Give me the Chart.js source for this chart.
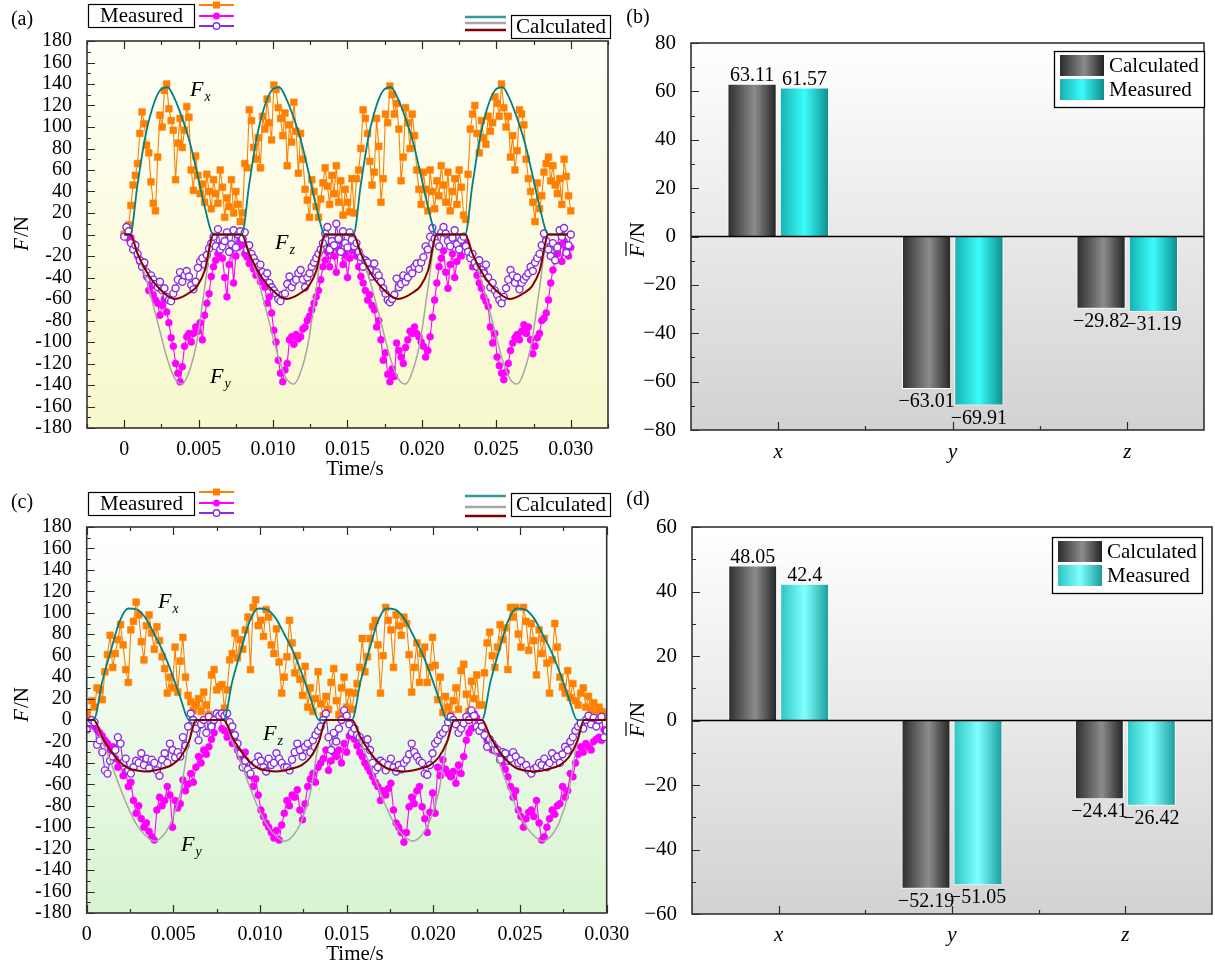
<!DOCTYPE html>
<html><head><meta charset="utf-8">
<script src="https://cdn.jsdelivr.net/npm/chart.js@4.4.0/dist/chart.umd.min.js"></script>
<style>
html,body{margin:0;padding:0;background:#fff;width:1215px;height:968px;overflow:hidden;}
canvas{position:absolute;left:0;top:0;}
</style></head><body>
<canvas id="ca" width="1215" height="968"></canvas>
<canvas id="cb" width="1215" height="968"></canvas>
<canvas id="cc" width="1215" height="968"></canvas>
<canvas id="cd" width="1215" height="968"></canvas>
<script>
// ---------------- DATA ----------------
const sampleStep = 0.00015; // s, sampling interval of measured forces

// Panel (a) measured forces (N)
const measFxA = [0,4,9,
27,46,55,66,94,114,103,83,76,49,29,22,72,111,100,134,140,117,106,97,51,85,108,81,97,119,109,60,41,73,55,38,47,30,56,40,24,
51,38,29,60,44,16,34,26,51,20,40,28,12,
20,66,62,116,106,81,70,90,62,110,98,126,104,88,139,135,118,108,92,113,64,102,86,123,96,57,94,70,42,32,16,51,40,26,16,33,48,
62,45,28,55,38,64,30,50,18,42,30,21,52,
20,52,60,80,116,108,94,68,46,58,108,82,30,52,112,104,138,130,112,122,98,50,72,118,104,80,112,92,60,42,28,58,42,22,60,40,24,
50,36,64,46,30,58,22,40,52,28,60,44,18,
14,56,98,112,120,94,76,106,90,84,110,96,104,128,122,110,140,118,100,110,72,92,60,78,116,112,102,70,52,40,30,12,48,24,36,58,66,
72,50,64,46,38,52,28,70,54,36,22];
const measFyA = [0,-2,-4,
-3,-8,-14,-20,-25,-30,-28,-39,-52,-48,-56,-61,-64,-75,-66,-60,-72,-82,-96,-104,-120,-129,-137,-123,-104,-95,-92,-100,-92,-86,-90,-82,-98,-75,-64,-55,-39,
-30,-24,-18,-10,-22,-40,-58,-28,-14,-45,-20,-12,-6,
-10,-18,-21,-27,-24,-32,-38,-35,-44,-40,-49,-64,-58,-73,-89,-100,-117,-129,-137,-126,-120,-98,-95,-102,-93,-97,-95,-88,-86,-80,-76,-70,-64,-58,-52,-42,-30,
-24,-16,-30,-10,-20,-35,-14,-6,-28,-18,-40,-22,-15,
-12,-20,-30,-39,-45,-52,-61,-56,-66,-70,-86,-80,-98,-117,-110,-130,-137,-125,-132,-101,-108,-114,-120,-105,-98,-90,-92,-86,-92,-95,-100,-104,-114,-108,-95,-77,-61,
-45,-30,-22,-15,-35,-50,-28,-18,-40,-25,-10,-20,-8,
-8,-15,-22,-30,-26,-38,-45,-50,-58,-62,-67,-86,-101,-92,-114,-122,-129,-135,-128,-120,-108,-101,-96,-93,-98,-90,-84,-92,-86,-98,-111,-104,-96,-92,-80,-78,-73,
-61,-45,-33,-24,-18,-10,-25,-6,-14,-20,-12];
const measFzA = [-2,7,3,
-8,-14,-10,-18,-24,-30,-26,-35,-41,-38,-42,-46,-49,-44,-52,-50,-58,-61,-62,-55,-50,-42,-35,-44,-38,-34,-39,-47,-51,-44,-31,-25,-22,-28,-19,-13,-8,
-2,-11,5,-14,-11,-6,2,-16,-9,4,-12,0,3,
-4,2,-14,-10,-18,-22,-26,-30,-28,-35,-39,-36,-45,-49,-52,-55,-60,-62,-56,-55,-46,-39,-49,-44,-42,-36,-33,-42,-49,-40,-36,-30,-26,-22,-18,-14,-8,
1,7,-14,-6,-10,10,-4,-16,3,-8,-12,2,-5,
-11,-8,-16,-21,-30,-24,-26,-33,-39,-27,-35,-38,-44,-50,-55,-61,-63,-60,-56,-41,-49,-46,-38,-44,-40,-33,-36,-30,-27,-32,-26,-21,-11,-14,-2,6,-4,
-8,-11,2,7,1,-6,-11,-3,4,-9,-14,-5,-2,
-11,-16,-22,-18,-26,-30,-24,-33,-36,-28,-40,-49,-45,-52,-56,-61,-64,-58,-50,-42,-33,-38,-45,-40,-51,-45,-42,-39,-36,-30,-34,-26,-22,-18,-10,1,-6,
-14,-20,-8,-24,-12,4,-2,6,-17,-10,0];

// Panel (a) calculated forces
const calcTimeA = [0,
0.0004,0.0009,0.0014,0.0019,0.0024,0.0029,0.0034,0.0039,0.0044,0.0049,0.0054,0.0060,
0.0079,0.0084,0.0089,0.0094,0.0099,0.0104,0.0109,0.0114,0.0119,0.0124,0.0129,0.0135,
0.0154,0.0159,0.0164,0.0169,0.0174,0.0179,0.0184,0.0189,0.0194,0.0199,0.0204,0.0210,
0.0229,0.0234,0.0239,0.0244,0.0249,0.0254,0.0259,0.0264,0.0269,0.0274,0.0279,0.0285,
0.0298];
const calcFxA = [0,
0,47,90,118,134,137,126,108,86,57,26,0,
0,47,90,118,134,137,126,108,86,57,26,0,
0,47,90,118,134,137,126,108,86,57,26,0,
0,47,90,118,134,137,126,108,86,57,26,0,
0];
const calcFyA = [0,
0,-17,-38,-63,-90,-116,-134,-139,-126,-98,-50,0,
0,-17,-38,-63,-90,-116,-134,-139,-126,-98,-50,0,
0,-17,-38,-63,-90,-116,-134,-139,-126,-98,-50,0,
0,-17,-38,-63,-90,-116,-134,-139,-126,-98,-50,0,
0];
const calcFzA = [0,
0,-18,-32,-43,-51,-57,-60,-58,-54,-48,-34,0,
0,-18,-32,-43,-51,-57,-60,-58,-54,-48,-34,0,
0,-18,-32,-43,-51,-57,-60,-58,-54,-48,-34,0,
0,-18,-32,-43,-51,-57,-60,-58,-54,-48,-34,0,
0];

// Panel (c) measured forces (N)
const measFxC = [6,0,18,
12,30,28,19,45,61,79,49,62,75,89,70,47,35,84,92,110,98,73,56,88,98,81,66,87,74,59,48,25,40,30,68,26,55,77,40,23,17,9,
14,20,8,26,14,5,42,47,28,31,33,
11,28,56,62,81,58,75,66,84,96,47,105,112,88,93,78,103,96,70,62,85,54,25,40,59,93,72,44,60,38,23,50,12,30,8,20,45,15,4,
22,10,35,48,18,5,30,40,12,26,
10,25,34,49,76,45,59,76,87,93,70,25,60,105,93,84,49,98,88,79,96,90,61,26,49,72,35,62,68,35,49,77,51,19,40,7,22,12,5,
18,30,10,46,52,24,8,36,20,42,14,
14,44,72,82,60,49,68,89,75,86,47,105,96,105,80,68,105,92,65,90,74,42,84,62,76,53,25,56,90,68,40,31,25,46,21,34,18,14,25,
30,12,22,9,16,5,12,8,3,6];
const measFyC = [3,-4,-2,
-6,-9,-12,-15,-19,-22,-28,-25,-36,-44,-40,-52,-48,-62,-58,-75,-87,-80,-92,-100,-96,-104,-109,-112,-84,-72,-80,-75,-62,-70,-100,-75,-82,-78,-56,-66,-60,-50,-58,
-44,-34,-40,-28,-32,-25,-18,-12,3,6,-8,
-10,-16,-12,-22,-19,-28,-34,-37,-30,-45,-52,-62,-55,-70,-84,-90,-96,-100,-105,-110,-103,-112,-98,-87,-75,-80,-70,-72,-65,-84,-93,-78,-62,-55,-50,-58,-44,-40,-36,
-28,-47,-38,-30,-34,-28,-40,-22,-30,-15,
-12,-18,-24,-30,-34,-40,-44,-48,-53,-58,-62,-75,-66,-70,-64,-59,-84,-96,-100,-105,-114,-105,-81,-72,-78,-66,-62,-81,-92,-105,-86,-68,-87,-44,-52,-37,-46,-50,-53,
-48,-59,-42,-50,-34,-19,-12,-8,6,2,-10,
-8,-12,-19,-22,-28,-25,-30,-34,-40,-46,-53,-62,-72,-66,-84,-90,-100,-92,-86,-84,-90,-75,-96,-112,-109,-100,-92,-84,-88,-80,-78,-62,-72,-66,-50,-53,-40,-32,-25,
-30,-22,-25,-28,-20,-18,-16,-19,-9,-12];
const measFzC = [-9,-2,0,
-2,-23,-19,-30,-47,-50,-38,-34,-28,-16,-22,-40,-36,-47,-50,-44,-38,-40,-31,-42,-36,-45,-37,-40,-47,-52,-37,-31,-40,-22,-28,-35,-30,-34,-16,-24,-6,6,0,
-8,-19,-4,0,-12,3,-6,0,6,4,6,
4,6,-2,-6,-14,-22,-31,-44,-38,-46,-50,-42,-40,-34,-38,-44,-48,-36,-42,-40,-31,-36,-40,-44,-44,-47,-37,-30,-22,-28,-34,-25,-22,-30,-19,-14,-10,-6,0,
6,-16,-28,-12,-20,-8,0,9,4,-4,
-12,-8,-14,-16,-20,-24,-18,-28,-40,-47,-44,-38,-40,-47,-42,-36,-44,-48,-42,-46,-40,-37,-32,-22,-30,-34,-38,-40,-50,-51,-42,-31,-22,-19,-14,-12,-8,-2,3,
0,-4,-12,-8,-3,3,0,9,4,-6,-10,
-6,-14,-25,-18,-22,-28,-28,-37,-30,-31,-38,-36,-30,-34,-40,-38,-44,-42,-47,-50,-46,-44,-40,-42,-36,-44,-40,-31,-36,-34,-40,-32,-25,-28,-20,-16,-10,-6,-3,
-8,0,4,-4,2,-6,0,3,-16,-10];

// Panel (c) calculated forces
const calcTimeC = [0,
0.0004,0.0009,0.0014,0.0019,0.0024,0.0029,0.0034,0.0039,0.0044,0.0049,0.0054,0.0059,0.0063,
0.0079,0.0084,0.0089,0.0094,0.0099,0.0104,0.0109,0.0114,0.0119,0.0124,0.0129,0.0134,0.0138,
0.0153,0.0158,0.0163,0.0168,0.0173,0.0178,0.0183,0.0188,0.0193,0.0198,0.0203,0.0208,0.0212,
0.0228,0.0233,0.0238,0.0243,0.0248,0.0253,0.0258,0.0263,0.0268,0.0273,0.0278,0.0283,0.0287,
0.0300];
const calcFxC = [0,
0,36,65,92,104,103,95,80,64,44,21,0,0,
0,36,65,92,104,103,95,80,64,44,21,0,0,
0,36,65,92,104,103,95,80,64,44,21,0,0,
0,36,65,92,104,103,95,80,64,44,21,0,0,
0];
const calcFyC = [0,
0,-20,-40,-62,-82,-98,-108,-113,-108,-94,-68,-20,0,
0,-20,-40,-62,-82,-98,-108,-113,-108,-94,-68,-20,0,
0,-20,-40,-62,-82,-98,-108,-113,-108,-94,-68,-20,0,
0,-20,-40,-62,-82,-98,-108,-113,-108,-94,-68,-20,0,
0];
const calcFzC = [0,
0,-16,-29,-39,-45,-47,-48,-47,-45,-42,-35,-20,0,
0,-16,-29,-39,-45,-47,-48,-47,-45,-42,-35,-20,0,
0,-16,-29,-39,-45,-47,-48,-47,-45,-42,-35,-20,0,
0,-16,-29,-39,-45,-47,-48,-47,-45,-42,-35,-20,0,
0];

// Mean forces (b) and (d)
const categories = ['x','y','z'];
const calcMeanB = [63.11, -63.01, -29.82];
const measMeanB = [61.57, -69.91, -31.19];
const calcMeanD = [48.05, -52.19, -24.41];
const measMeanD = [42.4, -51.05, -26.42];

// Tick values / labels
const timeTicksA = [0,0.005,0.010,0.015,0.020,0.025,0.030];
const timeMinorA = [-0.0025,0.0025,0.0075,0.0125,0.0175,0.0225,0.0275,0.0325];
const timeTicksC = [0,0.005,0.010,0.015,0.020,0.025,0.030];
const timeMinorC = [0.0025,0.0075,0.0125,0.0175,0.0225,0.0275];
const timeLabels = ['0','0.005','0.010','0.015','0.020','0.025','0.030'];
const forceTicks = [-180,-160,-140,-120,-100,-80,-60,-40,-20,0,20,40,60,80,100,120,140,160,180];
const forceMinor = [-170,-150,-130,-110,-90,-70,-50,-30,-10,10,30,50,70,90,110,130,150,170];
const meanTicksB = [-80,-60,-40,-20,0,20,40,60,80];
const meanMinorB = [-70,-50,-30,-10,10,30,50,70];
const meanTicksD = [-60,-40,-20,0,20,40,60];
const meanMinorD = [-50,-30,-10,10,30,50];
const categoryPos = [0,1,2];
const categoryBounds = [0.5,1.5];

// ---------------- STYLE / HELPERS ----------------
const SERIF = '"Liberation Serif","Times New Roman",Times,serif';
const ORANGE = '#ff8000', MAGENTA = '#ff00ff', PURPLE = '#8a2be2';
const TEAL = '#008080', GRAY = '#a6a6a6', DARKRED = '#800000';
const GRAD_CALC = [[0,'#2c2c2c'],[0.55,'#8c8c8c'],[1,'#222222']];
const GRAD_MEAS_B = [[0,'#16b0b0'],[0.5,'#3cfcfc'],[1,'#0c8c8c']];
const GRAD_MEAS_D = [[0,'#2cc4c4'],[0.5,'#80ffff'],[1,'#1a9c9c']];

function T(ctx, s, x, y, font, align, base, color) {
  ctx.font = font; ctx.textAlign = align || 'left'; ctx.textBaseline = base || 'middle';
  ctx.fillStyle = color || '#000'; ctx.fillText(s, x, y);
}
function Fsub(ctx, sub, x, y) {
  T(ctx, 'F', x, y, 'italic 22px ' + SERIF, 'left', 'middle');
  const w = ctx.measureText('F').width;
  T(ctx, sub, x + w + 1, y + 7, 'italic 14px ' + SERIF, 'left', 'middle');
}
function yTitle(ctx, cx, cy, bar) {
  ctx.save(); ctx.translate(cx, cy); ctx.rotate(-Math.PI / 2);
  const fI = 'italic 21px ' + SERIF, fR = '21px ' + SERIF;
  ctx.font = fI; const w1 = ctx.measureText('F').width;
  ctx.font = fR; const w2 = ctx.measureText('/N').width;
  const x0 = -(w1 + w2) / 2;
  T(ctx, 'F', x0, 0, fI, 'left', 'middle');
  T(ctx, '/N', x0 + w1 + 1, 0, fR, 'left', 'middle');
  if (bar) { ctx.strokeStyle = '#000'; ctx.lineWidth = 1.2; ctx.beginPath(); ctx.moveTo(x0 + 1, -12); ctx.lineTo(x0 + w1 + 2, -12); ctx.stroke(); }
  ctx.restore();
}
function pts(xs, ys) { return ys.map((v, i) => ({x: xs[i], y: v})); }
function ptsStep(ys) { return ys.map((v, i) => ({x: +(i * sampleStep).toFixed(5), y: v})); }

const deco = {
  id: 'deco',
  beforeDraw(chart, a, o) {
    const {ctx, chartArea: c} = chart;
    if (o.bg) {
      const g = ctx.createLinearGradient(0, c.top, 0, c.bottom);
      o.bg.forEach(s => g.addColorStop(s[0], s[1]));
      ctx.save(); ctx.fillStyle = g; ctx.fillRect(c.left, c.top, c.right - c.left, c.bottom - c.top); ctx.restore();
    }
  },
  beforeDatasetsDraw(chart, a, o) { if (o.under) { chart.ctx.save(); o.under(chart.ctx, chart); chart.ctx.restore(); } },
  afterDatasetsDraw(chart, a, o) {
    const {ctx, chartArea: c, scales: {x, y}} = chart;
    ctx.save();
    if (o.zeroLine) {
      const p = y.getPixelForValue(0);
      ctx.strokeStyle = '#000'; ctx.lineWidth = 1.5; ctx.beginPath(); ctx.moveTo(c.left, p); ctx.lineTo(c.right, p); ctx.stroke();
    }
    ctx.strokeStyle = '#2a2a2a'; ctx.lineWidth = 1.2; ctx.beginPath();
    const yt = (arr, L) => (arr || []).forEach(v => { const p = Math.round(y.getPixelForValue(v)) + 0.5; ctx.moveTo(c.left, p); ctx.lineTo(c.left + L, p); });
    const xt = (arr, L) => (arr || []).forEach(v => { const p = Math.round(x.getPixelForValue(v)) + 0.5; ctx.moveTo(p, c.bottom); ctx.lineTo(p, c.bottom - L); if (o.topTicks) { ctx.moveTo(p, c.top); ctx.lineTo(p, c.top + L); } });
    yt(o.yMajor, 8); yt(o.yMinor, 4); xt(o.xMajor, 8); xt(o.xMinor, 4);
    ctx.stroke();
    ctx.strokeStyle = '#333'; ctx.lineWidth = 1.6;
    ctx.strokeRect(c.left, c.top, c.right - c.left, c.bottom - c.top);
    ctx.restore();
    if (o.over) { ctx.save(); o.over(ctx, chart); ctx.restore(); }
  }
};

function lineLegends(ctx, mBoxY, mRows, cBoxY, cRows) {
  ctx.strokeStyle = '#000'; ctx.lineWidth = 1.2;
  ctx.fillStyle = '#fff'; ctx.fillRect(88, mBoxY, 106, 23);
  ctx.strokeRect(88.5, mBoxY + 0.5, 106, 23);
  T(ctx, 'Measured', 141.5, mBoxY + 12.5, '21px ' + SERIF, 'center', 'middle');
  const cols = [ORANGE, MAGENTA, PURPLE];
  mRows.forEach((yy, i) => {
    ctx.strokeStyle = cols[i]; ctx.lineWidth = 2;
    ctx.beginPath(); ctx.moveTo(199, yy); ctx.lineTo(234, yy); ctx.stroke();
    if (i === 0) { ctx.fillStyle = ORANGE; ctx.fillRect(213, yy - 3.5, 7, 7); }
    else if (i === 1) { ctx.fillStyle = MAGENTA; ctx.beginPath(); ctx.arc(216.5, yy, 3.5, 0, Math.PI * 2); ctx.fill(); }
    else { ctx.fillStyle = '#fff'; ctx.lineWidth = 1.4; ctx.beginPath(); ctx.arc(216.5, yy, 3.3, 0, Math.PI * 2); ctx.fill(); ctx.stroke(); }
  });
  const lc = [TEAL, GRAY, DARKRED];
  cRows.forEach((yy, i) => {
    ctx.strokeStyle = lc[i]; ctx.lineWidth = 2.6; ctx.globalAlpha = i === 0 ? 0.8 : 1;
    ctx.beginPath(); ctx.moveTo(465, yy); ctx.lineTo(506, yy); ctx.stroke();
  });
  ctx.globalAlpha = 1;
  ctx.strokeStyle = '#000'; ctx.lineWidth = 1.2;
  ctx.fillStyle = '#fff'; ctx.fillRect(511, cBoxY, 99, 23);
  ctx.strokeRect(511.5, cBoxY + 0.5, 99, 23);
  T(ctx, 'Calculated', 561, cBoxY + 12.5, '21px ' + SERIF, 'center', 'middle');
}

function lineChart(id, o) {
  return new Chart(document.getElementById(id), {
    type: 'line',
    data: { datasets: [
      {data: pts(o.ct, o.cz), borderColor: DARKRED, borderWidth: 2, pointRadius: 0, cubicInterpolationMode: 'monotone', order: 1},
      {data: pts(o.ct, o.cx), borderColor: TEAL, borderWidth: 1.8, pointRadius: 0, cubicInterpolationMode: 'monotone', order: 2},
      {data: pts(o.ct, o.cy), borderColor: GRAY, borderWidth: 1.5, pointRadius: 0, cubicInterpolationMode: 'monotone', order: 3},
      {data: ptsStep(o.mz), borderColor: PURPLE, borderWidth: 1.1, pointStyle: 'circle', pointRadius: 3.5, pointBackgroundColor: '#fff', pointBorderColor: PURPLE, pointBorderWidth: 1.4, order: 4},
      {data: ptsStep(o.mx), borderColor: ORANGE, borderWidth: 1.1, pointStyle: 'rect', pointRadius: 4.8, pointBackgroundColor: ORANGE, pointBorderColor: ORANGE, pointBorderWidth: 0.5, order: 5},
      {data: ptsStep(o.my), borderColor: MAGENTA, borderWidth: 1.1, pointStyle: 'circle', pointRadius: 3.5, pointBackgroundColor: MAGENTA, pointBorderColor: MAGENTA, pointBorderWidth: 0.5, order: 6}
    ]},
    options: {
      responsive: false, animation: false, events: [],
      layout: {padding: o.pad},
      scales: {
        x: {type: 'linear', min: o.xmin, max: o.xmax,
            afterBuildTicks: s => { s.ticks = o.xt.map(v => ({value: v})); },
            afterFit: s => { s.height = o.xh; },
            grid: {display: false}, border: {display: false},
            ticks: {autoSkip: false, maxRotation: 0, padding: o.xpad, color: '#000', font: {family: SERIF, size: 20},
                    callback: (v, i) => timeLabels[i]}},
        y: {min: -180, max: 180,
            afterBuildTicks: s => { s.ticks = forceTicks.map(v => ({value: v})); },
            afterFit: s => { s.width = o.yw; },
            grid: {display: false}, border: {display: false},
            ticks: {autoSkip: false, padding: 7, color: '#000', font: {family: SERIF, size: 20},
                    callback: (v, i) => String(forceTicks[i])}}
      },
      plugins: {legend: {display: false}, tooltip: {enabled: false},
        deco: {bg: o.bg, yMajor: forceTicks, yMinor: forceMinor, xMajor: o.xt, xMinor: o.xminor, topTicks: true,
               under: o.under, over: o.over}}
    },
    plugins: [deco]
  });
}

function gradFor(stops, dsIndex, cp, bp) {
  return (c) => {
    const ch = c.chart, xs = ch.scales && ch.scales.x;
    if (!xs || c.dataIndex === undefined) return stops[1][1];
    const cw = xs.getPixelForValue(1) - xs.getPixelForValue(0);
    const slot = cw * cp / 2;
    const center = xs.getPixelForValue(c.dataIndex) - cw * cp / 2 + slot * (dsIndex + 0.5);
    const bw = slot * bp;
    if (!isFinite(center) || !isFinite(bw) || bw <= 0) return stops[1][1];
    const g = ch.ctx.createLinearGradient(center - bw / 2, 0, center + bw / 2, 0);
    stops.forEach(s => g.addColorStop(s[0], s[1]));
    return g;
  };
}
function fmt(v) { return String(v).replace('-', '\u2212'); }

function barChart(id, o) {
  const CP = 0.6, BP = 0.94;
  return new Chart(document.getElementById(id), {
    type: 'bar',
    data: { datasets: [
      {label: 'Calculated', data: pts(categoryPos, o.calc), backgroundColor: gradFor(GRAD_CALC, 0, CP, BP), borderColor: '#ffffff', borderWidth: 1, categoryPercentage: CP, barPercentage: BP},
      {label: 'Measured', data: pts(categoryPos, o.meas), backgroundColor: gradFor(o.mg, 1, CP, BP), borderColor: '#ffffff', borderWidth: 1, categoryPercentage: CP, barPercentage: BP}
    ]},
    options: {
      responsive: false, animation: false, events: [],
      layout: {padding: o.pad},
      scales: {
        x: {type: 'linear', min: -0.5, max: o.xmax, offset: false,
            afterBuildTicks: s => { s.ticks = categoryPos.map(v => ({value: v})); },
            afterFit: s => { s.height = o.xh; }, grid: {display: false}, border: {display: false},
            ticks: {autoSkip: false, maxRotation: 0, padding: o.xpad, color: '#000', font: {family: SERIF, size: 21, style: 'italic'},
                    callback: (v, i) => categories[i]}},
        y: {min: o.yt[0], max: o.yt[o.yt.length - 1],
            afterBuildTicks: s => { s.ticks = o.yt.map(v => ({value: v})); },
            afterFit: s => { s.width = o.yw; },
            grid: {display: false}, border: {display: false},
            ticks: {autoSkip: false, padding: 7, color: '#000', font: {family: SERIF, size: 21},
                    callback: (v, i) => fmt(o.yt[i])}}
      },
      plugins: {legend: {display: false}, tooltip: {enabled: false},
        deco: {bg: [[0, '#ffffff'], [1, '#d2d2d2']], yMajor: o.yt, yMinor: o.ym, xMajor: categoryPos, xMinor: categoryBounds,
               topTicks: false, zeroLine: true,
               over: (ctx, chart) => {
                 [o.calc, o.meas].forEach((arr, di) => {
                   chart.getDatasetMeta(di).data.forEach((el, i) => {
                     const v = arr[i];
                     if (v >= 0) T(ctx, fmt(v), el.x, el.y - 3, '20px ' + SERIF, 'center', 'alphabetic');
                     else T(ctx, fmt(v), el.x, el.y + 3, '20px ' + SERIF, 'center', 'top');
                   });
                 });
                 const L = o.leg;
                 ctx.fillStyle = '#fff'; ctx.fillRect(L.x, L.y, L.w, L.h);
                 ctx.strokeStyle = '#000'; ctx.lineWidth = 1.3; ctx.strokeRect(L.x + 0.5, L.y + 0.5, L.w, L.h);
                 [[GRAD_CALC, 'Calculated', L.y + 4], [o.mg, 'Measured', L.y + 28]].forEach(r => {
                   const g = ctx.createLinearGradient(L.x + 6, 0, L.x + 50, 0);
                   r[0].forEach(s => g.addColorStop(s[0], s[1]));
                   ctx.fillStyle = g; ctx.fillRect(L.x + 6, r[2], 44, 21);
                   T(ctx, r[1], L.x + 55, r[2] + 11, '21px ' + SERIF, 'left', 'middle');
                 });
               }}}
    },
    plugins: [deco]
  });
}

// ---------------- CHARTS ----------------
lineChart('ca', {
  ct: calcTimeA, cx: calcFxA, cy: calcFyA, cz: calcFzA, mx: measFxA, my: measFyA, mz: measFzA,
  pad: {left: 0, top: 41, right: 607, bottom: 488}, xh: 52, yw: 87, xpad: 2,
  xmin: -0.0025, xmax: 0.0325, xt: timeTicksA, xminor: timeMinorA,
  bg: [[0, '#fffff8'], [1, '#f8f8cc']],
  under: (ctx) => { T(ctx, '(a)', 336, 250, '20px ' + SERIF, 'center', 'middle', '#222'); },
  over: (ctx) => {
    Fsub(ctx, 'x', 190, 90); Fsub(ctx, 'z', 275, 243); Fsub(ctx, 'y', 210, 377);
    T(ctx, 'Time/s', 355, 469, '21px ' + SERIF, 'center', 'middle');
    yTitle(ctx, 22, 234, false);
    T(ctx, '(a)', 22, 20, '20px ' + SERIF, 'center', 'middle');
    lineLegends(ctx, 4, [5, 16, 26], 15, [17, 23, 30]);
  }
});
barChart('cb', {
  calc: calcMeanB, meas: measMeanB, mg: GRAD_MEAS_B, yt: meanTicksB, ym: meanMinorB,
  pad: {left: 0, top: 43, right: 11, bottom: 488}, xh: 50, yw: 691, xpad: 2, xmax: 2.44,
  leg: {x: 1054, y: 51, w: 150, h: 56},
});
lineChart('cc', {
  ct: calcTimeC, cx: calcFxC, cy: calcFyC, cz: calcFzC, mx: measFxC, my: measFyC, mz: measFzC,
  pad: {left: 0, top: 527, right: 608.3, bottom: 15}, xh: 40, yw: 86.7, xpad: 2,
  xmin: 0, xmax: 0.030, xt: timeTicksC, xminor: timeMinorC,
  bg: [[0, '#ffffff'], [0.3, '#f5fcf3'], [1, '#d8f4d0']],
  over: (ctx) => {
    Fsub(ctx, 'x', 158, 602); Fsub(ctx, 'z', 263, 734); Fsub(ctx, 'y', 181, 845);
    T(ctx, 'Time/s', 355, 954, '21px ' + SERIF, 'center', 'middle');
    yTitle(ctx, 22, 705, false);
    T(ctx, '(c)', 22, 503, '20px ' + SERIF, 'center', 'middle');
    lineLegends(ctx, 492, [492, 503, 513], 493, [496, 507, 516]);
  }
});
barChart('cd', {
  calc: calcMeanD, meas: measMeanD, mg: GRAD_MEAS_D, yt: meanTicksD, ym: meanMinorD,
  pad: {left: 0, top: 527, right: 3, bottom: 14}, xh: 40, yw: 692, xpad: 1, xmax: 2.5,
  leg: {x: 1052, y: 537, w: 150, h: 56},
});
(function () {
  const ctx = document.getElementById('cd').getContext('2d');
  T(ctx, '(b)', 638, 18, '20px ' + SERIF, 'center', 'middle');
  T(ctx, '(d)', 638, 500, '20px ' + SERIF, 'center', 'middle');
  yTitle(ctx, 638, 240, true);
  yTitle(ctx, 638, 720, true);
})();
</script>
</body></html>
